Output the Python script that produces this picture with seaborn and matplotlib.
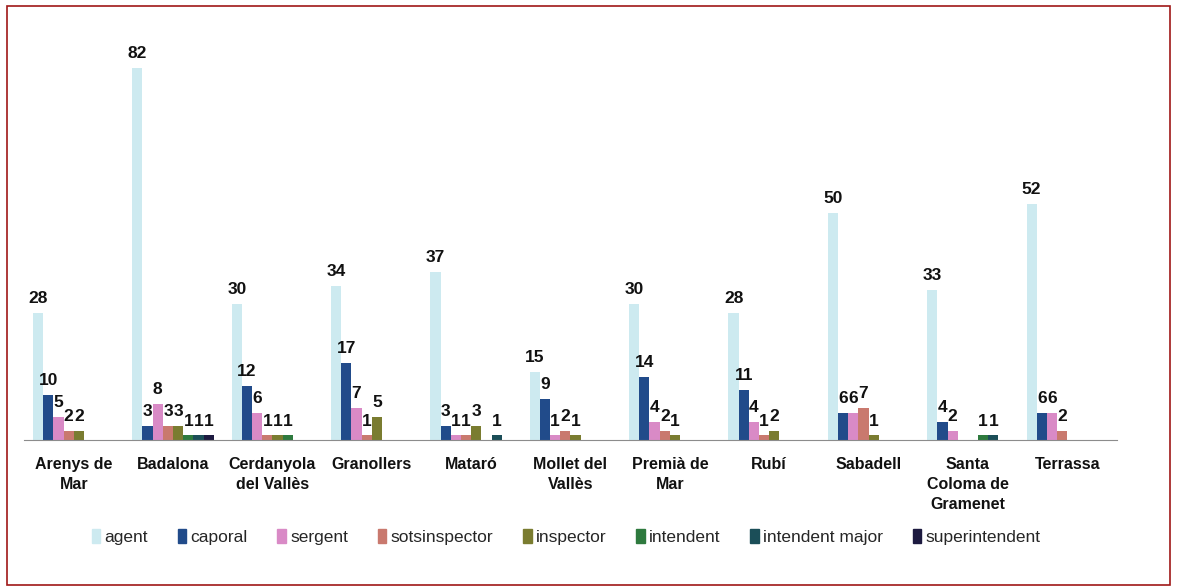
import numpy as np
import pandas as pd
import matplotlib
matplotlib.use('Agg')
import matplotlib.pyplot as plt
from matplotlib.patches import Rectangle
import seaborn as sns

cities = ['Arenys de\nMar', 'Badalona', 'Cerdanyola\ndel Vallès', 'Granollers', 'Mataró',
          'Mollet del\nVallès', 'Premià de\nMar', 'Rubí', 'Sabadell',
          'Santa\nColoma de\nGramenet', 'Terrassa']
ranks = ['agent', 'caporal', 'sergent', 'sotsinspector', 'inspector',
         'intendent', 'intendent major', 'superintendent']

agent = [28, 82, 30, 34, 37, 15, 30, 28, 50, 33, 52]
caporal = [10, 3, 12, 17, 3, 9, 14, 11, 6, 4, 6]
sergent = [5, 8, 6, 7, 1, 1, 4, 4, 6, 2, 6]
sotsinspector = [2, 3, 1, 1, 1, 2, 2, 1, 7, 0, 2]
inspector = [2, 3, 1, 5, 3, 1, 1, 2, 1, 0, 0]
intendent = [0, 1, 1, 0, 0, 0, 0, 0, 0, 1, 0]
intendent_major = [0, 1, 0, 0, 1, 0, 0, 0, 0, 1, 0]
superintendent = [0, 1, 0, 0, 0, 0, 0, 0, 0, 0, 0]

colors = ['#cdeaf0', '#214b8a', '#d98ac6', '#c9796e', '#7a7c30',
          '#2e7a3e', '#1b4e58', '#1d1a40']

series = [agent, caporal, sergent, sotsinspector, inspector,
          intendent, intendent_major, superintendent]
rows = []
for rank, vals in zip(ranks, series):
    for city, v in zip(cities, vals):
        rows.append({'city': city, 'rank': rank, 'value': v})
df = pd.DataFrame(rows)

sns.set_style('white')
plt.rcParams['font.family'] = ['Liberation Sans', 'DejaVu Sans']

fig = plt.figure(figsize=(11.77, 5.88), dpi=100)
ax = fig.add_axes([0.0204, 0.2517, 0.9286, 0.694])

sns.barplot(data=df, x='city', y='value', hue='rank', order=cities, hue_order=ranks,
            palette=colors, width=0.82, ax=ax, legend=False, saturation=1,
            edgecolor='none', linewidth=0)

for cont in ax.containers:
    labels = [f'{int(v)}' if v > 0 else '' for v in cont.datavalues]
    ax.bar_label(cont, labels=labels, fontsize=12.5, fontweight='bold', padding=5,
                 color='#111111')

ax.set_ylim(0, 90)
ax.set_xlim(-0.5, len(cities) - 0.5)
ax.set_xlabel('')
ax.set_ylabel('')
ax.set_yticks([])
for s in ['left', 'right', 'top']:
    ax.spines[s].set_visible(False)
ax.spines['bottom'].set_color('#8c8c8c')
ax.tick_params(axis='x', which='major', length=0, pad=12)
ax.set_xticks(np.arange(-0.5, len(cities)), minor=True)
ax.tick_params(axis='x', which='minor', length=5, color='#8c8c8c', direction='out')
for lab in ax.get_xticklabels():
    lab.set_fontweight('bold')
    lab.set_fontsize(11.5)
    lab.set_linespacing(1.45)
    lab.set_color('#111111')
    lab.set_verticalalignment('top')

handles = [Rectangle((0, 0), 1, 1, color=c) for c in colors]
fig.legend(handles, ranks, loc='center', bbox_to_anchor=(0.481, 0.087), ncol=8,
           frameon=False, fontsize=12.5, handlelength=0.5, handleheight=0.9,
           handletextpad=0.25, columnspacing=1.7)

fig.add_artist(Rectangle((0.006, 0.005), 0.988, 0.985, transform=fig.transFigure,
                         fill=False, edgecolor='#a01818', linewidth=1.2))

fig.savefig('out.png', dpi=100)
plt.close()
